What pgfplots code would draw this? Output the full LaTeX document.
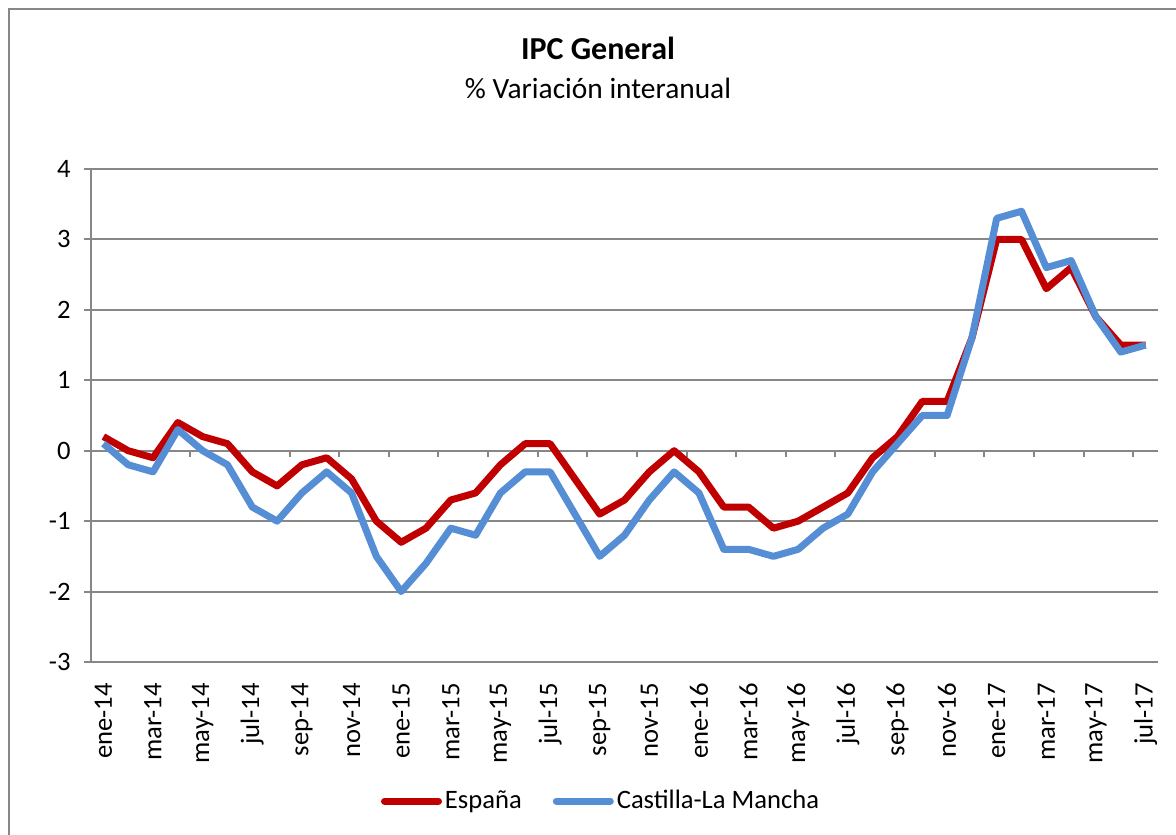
\documentclass[border=0pt]{standalone}
\usepackage{pgfplots}
\pgfplotsset{compat=1.18}
\usepackage{fontspec}
\setmainfont{Carlito}
\definecolor{rojo}{HTML}{C00000}
\definecolor{azul}{HTML}{558ED5}
\definecolor{grisgrid}{HTML}{878787}
\pgfplotstableread{
x esp clm
0 0.2 0.1
1 0.0 -0.2
2 -0.1 -0.3
3 0.4 0.3
4 0.2 0.0
5 0.1 -0.2
6 -0.3 -0.8
7 -0.5 -1.0
8 -0.2 -0.6
9 -0.1 -0.3
10 -0.4 -0.6
11 -1.0 -1.5
12 -1.3 -2.0
13 -1.1 -1.6
14 -0.7 -1.1
15 -0.6 -1.2
16 -0.2 -0.6
17 0.1 -0.3
18 0.1 -0.3
19 -0.4 -0.9
20 -0.9 -1.5
21 -0.7 -1.2
22 -0.3 -0.7
23 0.0 -0.3
24 -0.3 -0.6
25 -0.8 -1.4
26 -0.8 -1.4
27 -1.1 -1.5
28 -1.0 -1.4
29 -0.8 -1.1
30 -0.6 -0.9
31 -0.1 -0.3
32 0.2 0.1
33 0.7 0.5
34 0.7 0.5
35 1.6 1.6
36 3.0 3.3
37 3.0 3.4
38 2.3 2.6
39 2.6 2.7
40 1.9 1.9
41 1.5 1.4
42 1.5 1.5
}\datatable
\begin{document}
\begin{tikzpicture}
\useasboundingbox (0,0) rectangle (588pt,417pt);
\draw[grisgrid, line width=1pt] (4.25pt,-10pt) -- (4.25pt,412.5pt) -- (600pt,412.5pt);
\node[font=\fontsize{16}{19}\selectfont\bfseries] at (299pt,393pt) {IPC General};
\node[font=\fontsize{14.7}{17}\selectfont] at (299pt,373pt) {\% Variación interanual};
\begin{axis}[
  at={(45.5pt,86pt)}, anchor=south west,
  scale only axis, width=533.5pt, height=246.5pt,
  xmin=-0.5, xmax=42.5, ymin=-3, ymax=4,
  axis lines*=left,
  axis line style={grisgrid, line width=1pt},
  ytick={-3,-2,...,4},
  xtick={0,2,...,42},
  xticklabels={ene-14,mar-14,may-14,jul-14,sep-14,nov-14,ene-15,mar-15,may-15,jul-15,sep-15,nov-15,ene-16,mar-16,may-16,jul-16,sep-16,nov-16,ene-17,mar-17,may-17,jul-17},
  x tick style={draw=none},
  y tick style={grisgrid, line width=1pt},
  tick align=outside, major tick length=3.5pt,
  ymajorgrids, grid style={grisgrid, line width=1pt},
  tick label style={font=\fontsize{13.3}{15}\selectfont},
  /pgf/number format/assume math mode=true,
  xticklabel style={rotate=90, anchor=east, inner sep=0pt},
  xticklabel shift=7pt,
  yticklabel style={inner sep=0pt},
  yticklabel shift=6.5pt,
  legend style={draw=none, fill=none, at={(0.4785,-0.282)}, anchor=center,
    font=\fontsize{13.3}{15}\selectfont, nodes={inner sep=1.5pt},
    /tikz/every even column/.append style={column sep=14pt}},
  legend columns=2,
  legend image code/.code={\draw[#1, line cap=round] (0pt,0pt) -- (27pt,0pt);},
  clip=false,
]
\pgfplotsinvokeforeach{1.5,3.5,...,41.5}{
  \draw[grisgrid, line width=1pt] (axis cs:#1,0) -- ++(0pt,-3pt);
}
\addplot[rojo, line width=3.5pt, line join=round] table[x=x, y=esp] {\datatable};
\addlegendentry{España}
\addplot[azul, line width=3.5pt, line join=round] table[x=x, y=clm] {\datatable};
\addlegendentry{Castilla-La Mancha}
\end{axis}
\end{tikzpicture}
\end{document}
